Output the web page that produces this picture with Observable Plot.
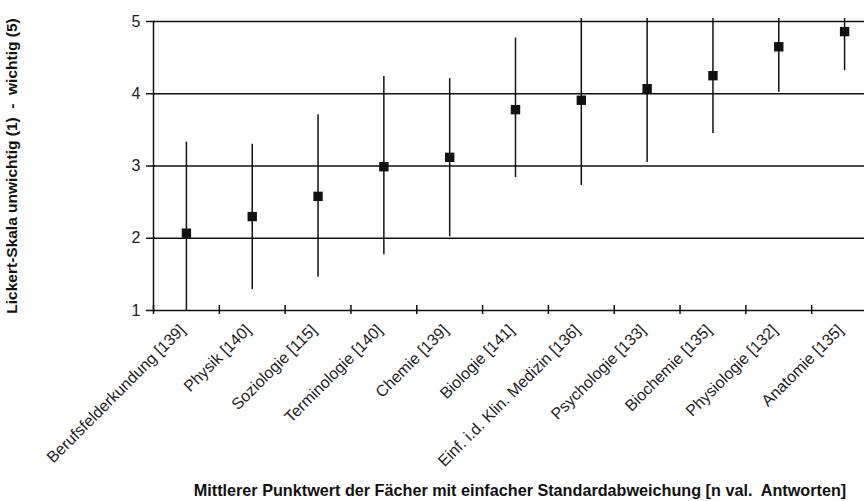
<!DOCTYPE html>
<html><head><meta charset="utf-8">
<script src="https://cdn.jsdelivr.net/npm/d3@7"></script>
<script src="https://cdn.jsdelivr.net/npm/@observablehq/plot@0.6"></script>
<style>body{margin:0;background:#fff;} svg{font-family:"Liberation Sans",Arial,sans-serif;}</style>
</head><body><div id="chart"></div>
<script>
const categories = ["Berufsfelderkundung [139]","Physik [140]","Soziologie [115]","Terminologie [140]","Chemie [139]","Biologie [141]","Einf. i.d. Klin. Medizin [136]","Psychologie [133]","Biochemie [135]","Physiologie [132]","Anatomie [135]"];
const means = [2.07, 2.30, 2.58, 2.99, 3.12, 3.78, 3.91, 4.07, 4.25, 4.65, 4.86];
const lows  = [1.00, 1.29, 1.46, 1.77, 2.02, 2.84, 2.73, 3.05, 3.45, 4.02, 4.32];
const highs = [3.33, 3.30, 3.71, 4.24, 4.21, 4.77, 5.04, 5.04, 5.04, 5.04, 5.04];
const yTicks = [1, 2, 3, 4, 5];
const yTitle = "Lickert-Skala unwichtig (1)  -  wichtig (5)";
const xTitle = "Mittlerer Punktwert der Fächer mit einfacher Standardabweichung [n val.  Antworten]";

const data = categories.map((c, i) => ({c, i, mean: means[i], lo: lows[i], hi: highs[i]}));
const bounds = d3.range(categories.length + 1);
const ink = "#111";

const chart = Plot.plot({
  width: 864, height: 501,
  marginLeft: 153, marginRight: 0, marginTop: 21, marginBottom: 191,
  x: {type: "linear", domain: [0, categories.length], range: [153, 877], axis: null},
  y: {domain: [1, 5], axis: null},
  marks: [
    Plot.ruleY(yTicks, {stroke: ink, strokeWidth: 1.5}),
    Plot.ruleX([0], {stroke: ink, strokeWidth: 1.5}),
    Plot.ruleY(yTicks, {x1: 0, x2: 0, insetLeft: -7, insetRight: -2, stroke: ink, strokeWidth: 1.5}),
    Plot.text(yTicks, {x: 0, y: d => d, text: d => String(d), textAnchor: "end", dx: -13, fontSize: 16, fill: "#222"}),
    Plot.ruleX(bounds, {y1: 1, y2: 1, insetTop: -5, insetBottom: -4, stroke: ink, strokeWidth: 1.5}),
    Plot.ruleX(data, {x: d => d.i + 0.5, y1: "lo", y2: "hi", stroke: ink, strokeWidth: 1.5}),
    Plot.dot(data, {x: d => d.i + 0.5, y: "mean", symbol: "square", r: 5.3, fill: ink, stroke: "none"}),
    Plot.text(data, {x: d => d.i + 0.5, y: 1, text: "c", rotate: -45, textAnchor: "end", dx: -4, dy: 17, fontSize: 16, fill: "#222"}),
    Plot.text([yTitle], {frameAnchor: "left", rotate: -90, textAnchor: "middle", dx: -141, fontSize: 15.5, fontWeight: "bold", fill: ink}),
    Plot.text([xTitle], {frameAnchor: "bottom", dx: 11, dy: 185, fontSize: 16.2, fontWeight: "bold", fill: ink})
  ]
});
document.getElementById("chart").append(chart);
</script></body></html>
